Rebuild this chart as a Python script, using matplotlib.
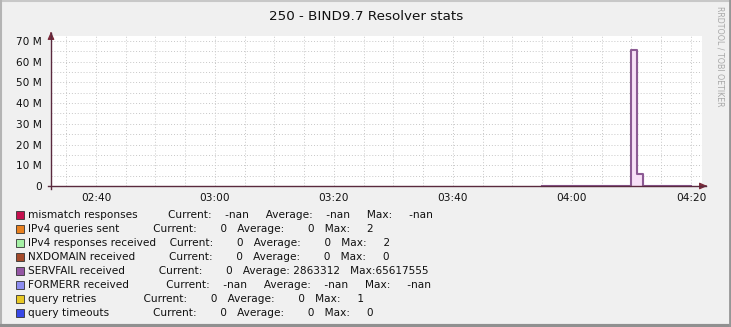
import matplotlib
matplotlib.use('Agg')
import matplotlib.pyplot as plt
from matplotlib.patches import Rectangle
from matplotlib.lines import Line2D
from matplotlib.ticker import FuncFormatter, MultipleLocator
import math

# ---------------- data ----------------
title = "250 - BIND9.7 Resolver stats"
x_tick_labels = ["02:40", "03:00", "03:20", "03:40", "04:00", "04:20"]
y_tick_values = [0, 10e6, 20e6, 30e6, 40e6, 50e6, 60e6, 70e6]

servfail_times = ["03:55", "03:56", "03:57", "03:58", "03:59", "04:00", "04:01",
                  "04:02", "04:03", "04:04", "04:05", "04:06", "04:07", "04:08",
                  "04:09", "04:10", "04:11", "04:12", "04:13", "04:14", "04:15",
                  "04:16", "04:17", "04:18", "04:19", "04:20"]
servfail_values = [0, 0, 0, 0, 0, 0, 0, 0, 0, 0, 0, 0, 0, 0, 0,
                   65617555, 5965000, 0, 0, 0, 0, 0, 0, 0, 0, 0]

legend_names = ["mismatch responses", "IPv4 queries sent", "IPv4 responses received",
                "NXDOMAIN received", "SERVFAIL received", "FORMERR received",
                "query retries", "query timeouts"]
legend_colors = ["#c4104e", "#e8801e", "#a4f0a4", "#a44a2a", "#9456a4", "#8c8cf0",
                 "#e8c824", "#3848e8"]
legend_current = [float('nan'), 0, 0, 0, 0, float('nan'), 0, 0]
legend_average = [float('nan'), 0, 0, 0, 2863312, float('nan'), 0, 0]
legend_max = [float('nan'), 2, 2, 0, 65617555, float('nan'), 1, 0]

# ---------------- helpers ----------------
W, H = 731, 327


def hm(s):
    h, m = s.split(":")
    return int(h) * 60 + int(m)


def fx(px):
    return px / W


def fy(py):
    return 1 - py / H


def isnan(v):
    return isinstance(v, float) and math.isnan(v)


def fmt(v, width=8, trail="", nan_width=None):
    if isnan(v):
        nw = width if nan_width is None else nan_width
        return " " * (nw - 4) + "-nan" + trail
    return ("%" + str(width) + "d") % int(v)


fig = plt.figure(figsize=(W / 100, H / 100), dpi=100, facecolor='#f0f0f0')
plt.rcParams['font.family'] = ['DejaVu Sans']

# plot area in pixels
L, R, T, B = 51, 702, 36, 186
ax = fig.add_axes([fx(L), fy(B), fx(R - L), (B - T) / H])
ax.set_facecolor('white')

xmin = hm("02:40") - 7.56
xmax = hm("04:20") + 1.85
ax.set_xlim(xmin, xmax)
ax.set_ylim(0, 72.4e6)

ax.set_xticks([hm(s) for s in x_tick_labels])
ax.set_xticklabels(x_tick_labels)
ax.xaxis.set_minor_locator(MultipleLocator(5))
ax.set_yticks(y_tick_values)
ax.yaxis.set_minor_locator(MultipleLocator(5e6))
ax.yaxis.set_major_formatter(FuncFormatter(lambda v, p: "0" if v == 0 else "%d M" % round(v / 1e6)))
ax.tick_params(which='both', length=0, labelsize=7.6, colors='#111111')
ax.tick_params(axis='y', pad=6.5)
ax.tick_params(axis='x', pad=5)
ax.grid(which='both', color='#c8c8c8', linestyle=(0, (1, 2)), linewidth=0.7)
ax.set_axisbelow(True)
for s in ax.spines.values():
    s.set_visible(False)

tt = [hm(s) for s in servfail_times]
ax.fill_between(tt, servfail_values, step='post', color='#f7e0f7', zorder=2)
ax.plot(tt, servfail_values, drawstyle='steps-post', color='#8c5a94', lw=1.5,
        zorder=3, clip_on=False)

# axes with arrows
axis_col = '#5a2a3e'
fig.add_artist(Line2D([fx(48), fx(706)], [fy(B), fy(B)], color=axis_col, lw=1.0))
fig.add_artist(Line2D([fx(L), fx(L)], [fy(B + 3), fy(33)], color=axis_col, lw=1.0))
ax.annotate("", xy=(fx(710), fy(B)), xytext=(fx(703), fy(B)), xycoords='figure fraction',
            arrowprops=dict(arrowstyle='-|>,head_length=0.45,head_width=0.2',
                            color='#7a2a3a', lw=0.8), annotation_clip=False)
ax.annotate("", xy=(fx(L), fy(29)), xytext=(fx(L), fy(36)), xycoords='figure fraction',
            arrowprops=dict(arrowstyle='-|>,head_length=0.45,head_width=0.2',
                            color='#7a2a3a', lw=0.8), annotation_clip=False)

# title
fig.text(fx(366), fy(17), title, ha='center', va='center', fontsize=9.7, color='#111111')

# vertical credit
fig.text(fx(720), fy(56), "RRDTOOL / TOBI OETIKER", rotation=270, ha='center', va='center',
         fontsize=5.7, color='#a8a8a8')

# legend
for i, name in enumerate(legend_names):
    yc = 215 + 14 * i
    fig.patches.append(Rectangle((fx(15.5), fy(yc + 4)), 8 / W, 8 / H,
                                 transform=fig.transFigure, facecolor=legend_colors[i],
                                 edgecolor='#333333', lw=0.6))
    row = (name.ljust(27) + "Current:" + fmt(legend_current[i], 8, "  ") +
           "   Average:" + fmt(legend_average[i], 8, "  ") +
           "   Max:" + fmt(legend_max[i], 6, "", 9))
    fig.text(fx(28), fy(yc), row, ha='left', va='center', fontsize=7.6, color='#111111')

# frame shading
fig.add_artist(Line2D([0, 1], [fy(0.5), fy(0.5)], color='#c8c8c8', lw=1.5))
fig.add_artist(Line2D([fx(0.5), fx(0.5)], [0, 1], color='#b4b4b4', lw=1.5))
fig.add_artist(Line2D([0, 1], [fy(H - 1.5), fy(H - 1.5)], color='#909090', lw=3))
fig.add_artist(Line2D([fx(W - 1), fx(W - 1)], [0, 1], color='#969696', lw=2))

fig.savefig("out.png", dpi=100, facecolor=fig.get_facecolor())
